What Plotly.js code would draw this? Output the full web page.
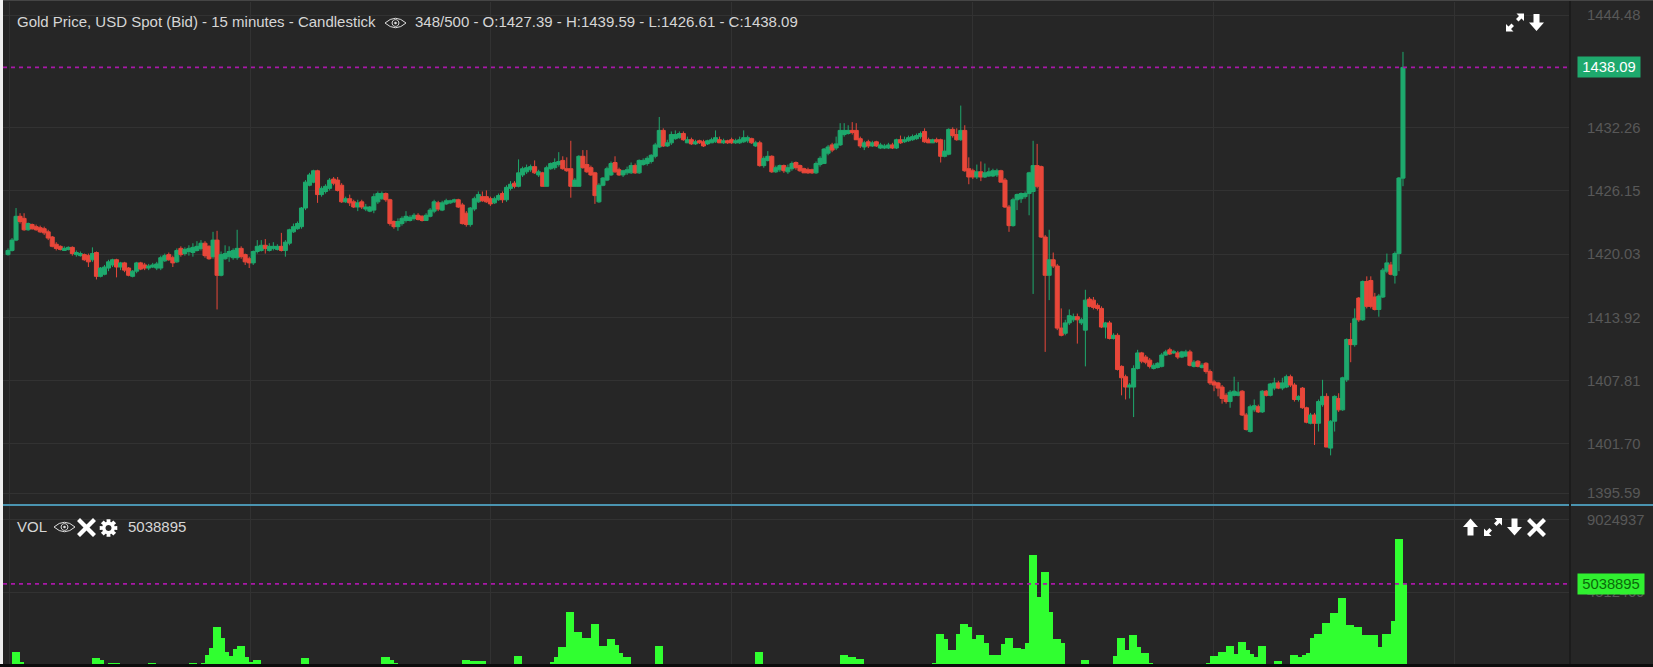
<!DOCTYPE html>
<html>
<head>
<meta charset="utf-8">
<script src="https://cdn.plot.ly/plotly-3.0.1.min.js"></script>
<style>html,body{margin:0;padding:0;background:#262626;overflow:hidden}</style>
</head>
<body>
<div id="chart" style="width:1653px;height:667px"></div>
<script>
const opens = [
1420.0,1420.4,1421.4,1423.7,1423.5,1422.4,1422.9,1422.7,1422.6,1422.5,
1422.2,1421.7,1421.0,1420.8,1420.4,1420.5,1420.7,1420.0,1419.9,1420.0,
1419.9,1419.5,1420.2,1417.9,1418.1,1418.7,1419.0,1419.5,1418.8,1419.2,
1418.7,1417.9,1418.4,1419.2,1419.0,1418.7,1418.8,1418.7,1418.7,1419.4,
1420.0,1419.7,1419.3,1420.6,1420.1,1420.3,1420.2,1420.4,1420.6,1421.1,
1420.8,1419.8,1421.4,1418.0,1419.6,1419.8,1419.7,1419.7,1420.6,1420.0,
1419.6,1419.2,1420.3,1420.4,1420.9,1420.4,1420.6,1420.5,1420.8,1420.4,
1421.1,1422.2,1422.5,1422.7,1424.5,1426.7,1427.0,1428.1,1425.8,1426.1,
1426.4,1427.3,1427.2,1426.7,1425.1,1425.4,1425.1,1424.6,1425.1,1424.4,
1424.2,1424.3,1425.1,1425.4,1425.9,1425.3,1423.2,1422.7,1423.0,1423.3,
1423.3,1423.5,1423.8,1423.7,1423.3,1423.7,1424.2,1425.0,1424.3,1424.9,
1425.0,1425.1,1425.3,1424.8,1424.0,1422.9,1424.4,1425.1,1425.6,1425.6,
1425.4,1425.0,1425.3,1425.9,1425.3,1426.4,1426.9,1426.6,1427.7,1428.0,
1428.2,1428.5,1427.7,1427.9,1426.6,1428.3,1428.4,1428.7,1429.1,1428.3,
1428.3,1426.6,1426.6,1429.5,1428.7,1428.4,1427.9,1425.1,1426.7,1427.2,
1427.7,1428.9,1428.2,1427.7,1427.9,1427.9,1428.6,1427.9,1428.7,1428.8,
1429.0,1429.5,1430.4,1432.0,1430.5,1430.8,1431.2,1431.3,1431.7,1430.8,
1431.1,1430.7,1431.0,1430.9,1430.7,1430.8,1430.9,1431.1,1430.8,1431.0,
1431.1,1430.8,1430.8,1430.9,1431.0,1431.2,1430.5,1430.8,1428.6,1429.1,
1429.5,1428.0,1428.2,1428.6,1428.0,1428.3,1428.9,1428.6,1428.3,1428.2,
1428.2,1427.9,1428.7,1428.8,1429.8,1430.6,1430.3,1430.6,1431.6,1431.7,
1432.0,1432.0,1431.2,1430.4,1430.9,1430.5,1430.9,1430.3,1430.3,1430.3,
1430.6,1430.3,1431.1,1430.9,1431.0,1431.1,1431.2,1431.4,1431.9,1431.1,
1430.8,1431.1,1431.1,1429.5,1429.7,1432.1,1431.6,1431.1,1432.0,1428.3,
1428.1,1427.5,1428.0,1427.5,1427.6,1427.6,1427.7,1428.1,1427.2,1424.6,
1422.8,1425.3,1425.4,1425.6,1425.9,1426.1,1428.6,1428.5,1421.7,1418.0,
1419.5,1418.9,1412.9,1412.4,1413.4,1413.7,1414.0,1413.4,1412.7,1415.7,
1415.6,1415.1,1414.8,1413.0,1413.4,1411.9,1412.2,1409.2,1408.2,1407.2,
1407.2,1409.0,1410.5,1410.1,1409.8,1409.0,1409.1,1409.2,1410.3,1410.8,
1410.5,1410.5,1410.1,1410.2,1410.6,1409.2,1409.7,1409.1,1409.5,1408.7,
1407.7,1407.6,1407.2,1406.4,1405.8,1406.4,1406.4,1406.8,1404.5,1402.9,
1405.0,1405.3,1404.8,1406.8,1406.4,1407.1,1407.6,1407.1,1407.2,1408.2,
1407.4,1406.0,1407.1,1405.2,1403.7,1404.5,1403.7,1405.5,1406.3,1401.3,
1403.9,1406.1,1405.0,1407.9,1411.8,1411.3,1415.8,1413.7,1417.4,1417.5,
1415.9,1414.7,1415.9,1418.4,1419.0,1418.0,1420.1,1427.39];
const highs = [
1420.6,1421.6,1424.5,1424.0,1424.0,1423.1,1423.0,1422.9,1422.8,1422.7,
1422.4,1421.8,1421.2,1420.9,1420.8,1420.8,1420.8,1420.4,1420.3,1420.1,
1420.1,1420.7,1420.3,1418.8,1419.0,1419.5,1419.6,1419.6,1419.3,1419.3,
1418.8,1418.5,1419.3,1419.3,1419.2,1419.1,1419.2,1419.3,1419.9,1420.1,
1420.2,1419.9,1420.6,1420.8,1420.7,1420.9,1421.1,1421.3,1421.4,1421.3,
1420.9,1422.2,1422.3,1420.3,1420.9,1420.8,1420.6,1422.4,1420.8,1420.1,
1419.8,1420.4,1421.4,1421.4,1421.5,1421.1,1421.2,1421.0,1422.1,1421.4,
1422.5,1423.0,1423.2,1424.6,1427.2,1427.9,1428.2,1428.2,1426.6,1426.8,
1427.4,1427.5,1427.5,1426.9,1425.6,1425.8,1425.3,1425.3,1425.3,1424.9,
1424.7,1425.9,1426.1,1426.1,1426.0,1425.4,1423.3,1423.5,1423.7,1424.2,
1423.8,1424.0,1424.0,1423.8,1424.0,1424.5,1425.3,1425.2,1425.2,1425.4,
1425.3,1425.4,1425.4,1425.0,1424.2,1424.6,1425.6,1426.1,1426.1,1426.2,
1425.6,1425.6,1425.9,1426.1,1426.7,1427.1,1427.1,1429.2,1428.5,1428.7,
1428.7,1429.1,1428.2,1428.0,1428.6,1428.9,1429.3,1429.9,1429.5,1429.4,
1431.0,1427.4,1429.6,1430.1,1430.1,1428.6,1428.0,1426.9,1427.5,1428.5,
1429.0,1429.5,1428.4,1428.2,1428.5,1428.9,1428.8,1429.2,1429.3,1429.5,
1429.7,1430.8,1433.3,1432.2,1431.1,1431.9,1432.0,1431.9,1431.9,1431.4,
1431.3,1431.1,1431.1,1431.1,1431.1,1431.3,1432.0,1431.4,1431.2,1431.1,
1431.3,1431.2,1431.4,1432.0,1431.5,1431.3,1431.0,1431.0,1429.5,1430.0,
1429.6,1428.6,1428.7,1428.7,1428.7,1429.0,1429.0,1428.7,1428.4,1428.4,
1428.3,1429.0,1429.5,1430.3,1430.6,1430.8,1431.4,1432.7,1432.7,1432.5,
1432.8,1432.7,1431.4,1431.0,1431.1,1431.0,1431.0,1430.8,1430.7,1430.8,
1430.8,1431.2,1431.5,1431.4,1431.5,1431.6,1431.7,1431.9,1432.2,1431.3,
1431.2,1431.3,1431.2,1431.1,1432.2,1432.3,1432.2,1434.4,1432.5,1429.4,
1428.3,1428.7,1429.0,1428.8,1428.4,1428.3,1428.3,1428.2,1427.4,1424.8,
1425.5,1425.9,1426.0,1426.1,1428.0,1431.0,1430.7,1428.6,1421.9,1422.4,
1420.2,1419.1,1414.8,1413.7,1414.7,1414.3,1414.3,1413.9,1416.6,1415.9,
1415.9,1415.3,1415.0,1413.5,1413.6,1412.4,1412.4,1409.3,1408.4,1407.6,
1409.3,1410.8,1410.6,1410.3,1410.0,1409.5,1409.6,1410.5,1410.8,1411.0,
1410.8,1410.7,1410.7,1410.8,1410.8,1409.8,1409.8,1409.5,1409.6,1408.9,
1407.9,1407.7,1407.4,1406.6,1406.9,1408.2,1407.7,1406.9,1404.7,1405.5,
1406.0,1405.5,1406.9,1406.9,1407.6,1408.1,1407.8,1408.1,1408.4,1408.4,
1407.6,1406.4,1407.2,1405.3,1404.7,1404.7,1406.0,1407.9,1406.6,1404.0,
1406.4,1406.6,1408.2,1411.9,1413.4,1414.8,1415.9,1417.5,1417.9,1417.9,
1416.3,1416.2,1418.7,1420.1,1419.3,1420.3,1427.5,1439.59];
const lows = [
1419.9,1420.3,1421.3,1423.0,1422.3,1422.3,1422.4,1422.3,1422.1,1421.9,
1421.4,1420.7,1420.4,1420.4,1420.4,1420.4,1419.9,1419.8,1419.8,1419.4,
1418.8,1419.3,1417.6,1417.8,1418.0,1418.4,1418.8,1417.8,1418.5,1418.3,
1417.9,1417.8,1418.2,1418.5,1418.5,1418.5,1418.7,1418.5,1418.5,1419.3,
1419.4,1418.8,1419.2,1419.8,1419.9,1419.9,1419.8,1420.3,1420.4,1419.7,
1419.5,1419.6,1414.7,1417.9,1419.5,1419.3,1419.5,1419.5,1419.6,1419.0,
1418.7,1419.0,1420.1,1420.3,1420.1,1420.3,1420.4,1420.4,1420.3,1419.8,
1420.9,1422.1,1422.4,1422.5,1424.3,1426.6,1426.9,1425.0,1425.6,1425.9,
1426.2,1426.7,1426.1,1425.0,1425.0,1424.7,1424.5,1424.2,1424.4,1424.2,
1424.1,1424.0,1424.9,1425.3,1425.1,1422.8,1422.5,1422.3,1422.8,1423.1,
1423.2,1423.3,1423.3,1423.2,1423.3,1423.6,1424.0,1424.2,1424.2,1424.8,
1424.9,1425.0,1424.5,1422.9,1422.7,1422.7,1424.2,1425.0,1425.1,1425.0,
1424.7,1424.9,1425.2,1425.0,1425.1,1426.2,1426.4,1426.5,1427.5,1427.8,
1428.0,1427.8,1427.5,1426.6,1426.6,1428.2,1428.2,1428.5,1428.2,1428.0,
1425.5,1426.6,1426.6,1428.3,1427.9,1427.6,1424.9,1425.0,1426.6,1427.1,
1427.6,1427.9,1427.6,1427.5,1427.7,1427.8,1427.8,1427.8,1428.6,1428.6,
1428.8,1429.3,1430.3,1430.4,1430.4,1430.6,1431.1,1431.2,1431.0,1430.8,
1430.6,1430.6,1430.7,1430.4,1430.6,1430.8,1430.8,1430.8,1430.7,1430.7,
1430.7,1430.7,1430.7,1430.8,1430.8,1430.7,1430.4,1428.5,1428.4,1429.0,
1427.9,1427.9,1428.0,1427.9,1427.8,1428.1,1428.2,1428.0,1427.9,1427.8,
1427.8,1427.8,1428.5,1428.8,1429.6,1429.9,1430.1,1430.5,1431.4,1431.6,
1431.6,1431.1,1430.3,1430.1,1430.3,1430.4,1430.4,1430.2,1430.2,1430.2,
1430.2,1430.2,1430.7,1430.8,1430.9,1431.0,1431.1,1431.2,1430.8,1430.8,
1430.8,1430.8,1428.9,1429.4,1429.6,1431.3,1431.0,1431.0,1428.0,1426.8,
1427.3,1427.3,1427.1,1427.4,1427.5,1427.5,1427.5,1427.0,1424.5,1422.2,
1422.7,1424.3,1425.0,1425.4,1423.8,1416.2,1426.4,1421.6,1410.6,1415.6,
1418.7,1412.7,1412.1,1412.2,1413.2,1413.5,1411.4,1413.2,1409.2,1414.9,
1414.7,1414.6,1412.9,1411.9,1411.8,1411.8,1408.8,1406.4,1406.0,1406.1,
1404.3,1408.9,1409.5,1409.4,1409.0,1408.9,1409.0,1409.1,1410.2,1410.3,
1410.4,1409.9,1410.0,1410.1,1409.2,1409.1,1409.1,1409.0,1408.5,1407.4,
1406.8,1406.3,1405.6,1405.6,1405.2,1406.3,1406.3,1404.4,1403.0,1402.8,
1404.8,1404.7,1404.7,1406.3,1406.3,1406.9,1407.0,1406.9,1407.1,1407.2,
1405.8,1405.8,1405.1,1403.7,1403.6,1401.6,1402.9,1405.3,1401.4,1400.6,
1402.9,1404.8,1404.9,1407.7,1409.6,1411.1,1413.5,1413.6,1414.8,1414.8,
1414.6,1414.0,1415.8,1418.2,1418.0,1417.2,1418.4,1426.61];
const closes = [
1420.4,1421.4,1423.7,1423.2,1422.4,1423.0,1422.5,1422.4,1422.2,1422.1,
1421.6,1420.8,1420.6,1420.5,1420.6,1420.7,1420.1,1420.2,1420.1,1419.5,
1419.3,1420.1,1417.9,1418.7,1418.8,1419.3,1419.5,1418.8,1419.2,1418.5,
1418.0,1418.4,1419.2,1418.6,1418.7,1418.9,1419.0,1419.1,1419.7,1419.9,
1419.5,1419.2,1420.4,1420.0,1420.5,1420.6,1420.7,1420.8,1421.1,1419.9,
1419.6,1421.4,1418.0,1420.0,1420.1,1420.3,1420.4,1420.6,1419.8,1419.3,
1419.2,1420.3,1420.8,1420.9,1420.6,1420.8,1420.8,1420.8,1420.4,1421.2,
1422.4,1422.7,1423.0,1424.5,1427.0,1427.7,1428.1,1425.8,1426.4,1426.6,
1427.2,1426.9,1426.2,1425.1,1425.4,1425.0,1424.6,1425.0,1424.6,1424.6,
1424.6,1425.6,1425.9,1425.9,1425.3,1423.0,1422.7,1423.2,1423.5,1423.7,
1423.6,1423.8,1423.4,1423.3,1423.8,1424.3,1425.1,1424.4,1425.0,1425.2,
1425.2,1425.3,1424.6,1423.0,1422.9,1424.5,1425.4,1425.8,1425.2,1425.1,
1424.9,1425.4,1425.7,1425.3,1426.5,1426.8,1426.6,1427.9,1428.3,1428.4,
1428.5,1427.9,1428.0,1426.6,1428.4,1428.8,1428.9,1429.0,1428.3,1428.1,
1426.6,1427.2,1429.5,1428.4,1428.0,1427.7,1425.7,1426.7,1427.4,1428.3,
1428.8,1428.0,1427.7,1428.1,1428.2,1428.6,1427.9,1429.1,1429.1,1429.3,
1429.6,1430.6,1432.0,1430.5,1430.8,1431.6,1431.6,1431.7,1431.1,1431.1,
1430.7,1430.9,1430.8,1430.5,1431.0,1431.1,1431.3,1430.8,1431.0,1430.8,
1430.8,1431.0,1431.1,1431.3,1431.3,1430.8,1430.8,1428.6,1429.3,1429.5,
1428.0,1428.4,1428.6,1428.1,1428.4,1428.8,1428.4,1428.1,1427.9,1427.9,
1427.9,1428.8,1429.3,1430.2,1430.4,1430.1,1430.7,1432.0,1432.0,1432.0,
1431.8,1431.1,1430.5,1430.8,1430.5,1430.8,1430.5,1430.6,1430.5,1430.6,
1430.3,1431.1,1430.8,1431.1,1431.3,1431.4,1431.5,1431.7,1430.9,1430.8,
1431.1,1430.9,1429.5,1430.0,1432.1,1431.5,1431.1,1432.0,1428.1,1427.5,
1427.5,1428.0,1427.5,1427.9,1428.0,1428.1,1428.1,1427.0,1424.6,1422.8,
1425.3,1425.8,1425.9,1425.9,1427.9,1428.6,1426.6,1421.7,1418.0,1419.5,
1418.9,1412.9,1412.2,1413.4,1414.1,1414.0,1413.7,1413.7,1415.6,1415.0,
1414.9,1414.8,1413.0,1413.4,1411.9,1412.2,1408.9,1408.1,1407.2,1407.4,
1409.0,1410.5,1409.7,1409.6,1409.2,1409.3,1409.5,1410.3,1410.6,1410.4,
1410.6,1410.1,1410.6,1410.6,1409.3,1409.6,1409.2,1409.3,1408.7,1407.6,
1407.4,1407.1,1406.1,1405.8,1406.7,1406.8,1406.7,1404.5,1403.1,1405.3,
1405.4,1404.8,1406.8,1406.4,1407.5,1407.6,1407.1,1407.6,1408.2,1407.4,
1406.0,1406.3,1405.2,1403.8,1404.5,1403.7,1405.8,1406.3,1401.4,1403.9,
1406.3,1405.0,1408.1,1411.8,1411.3,1413.8,1413.7,1417.4,1415.0,1415.0,
1414.7,1416.0,1418.5,1419.2,1418.1,1420.1,1427.4,1438.09];
const volumesThousands = [
30,828,828,207,30,30,30,30,30,30,
30,30,30,30,30,30,30,30,30,30,
30,414,414,310,30,145,145,145,30,30,
30,30,30,30,30,145,145,30,30,30,
30,30,30,30,30,145,145,30,145,621,
1076,2338,2338,1655,828,559,972,1179,1179,517,
207,310,310,30,30,30,62,62,30,30,
30,30,30,414,414,30,30,30,30,30,
30,30,30,30,30,30,30,30,30,30,
30,30,30,476,476,310,145,30,30,30,
30,30,30,30,30,30,30,30,30,30,
30,30,30,310,310,248,248,248,248,30,
30,30,30,30,30,30,559,559,30,30,
30,30,30,30,30,207,476,1097,1097,3310,
3310,2028,2028,1655,1655,2545,2545,1179,1179,1593,
1593,1241,724,476,476,30,30,30,30,30,
30,1179,1179,30,30,30,30,30,30,30,
30,30,30,30,30,30,30,30,30,30,
30,30,30,30,30,30,828,828,30,30,
30,30,30,30,30,30,30,30,30,30,
30,30,30,30,30,30,30,641,641,476,
476,393,393,30,30,30,30,30,30,30,
30,30,30,30,30,30,30,30,30,30,
145,1924,1924,1593,910,910,1924,2545,2545,2379,
1593,1841,1841,1345,641,641,641,1303,1676,1676,
1076,1076,993,1345,6807,6807,4241,5752,5752,3310,
1593,1593,1345,30,30,30,30,310,310,30,
30,30,30,30,30,559,1696,1696,931,1841,
1841,1097,724,724,145,30,30,30,30,30,
30,30,30,30,30,30,30,30,103,559,
559,786,786,1179,1179,683,1428,1428,931,662,
476,1179,1179,30,30,228,228,30,30,641,
641,517,621,724,1655,1924,1924,2628,2628,3207,
3207,4158,4158,2483,2483,2379,2379,1862,1862,1862,
1862,1097,1924,1924,2731,7820,7820,5038.895];
const priceTickVals = [1443.15,1432.26,1426.15,1420.03,1413.92,1407.81,1401.70,1396.96];
const priceTickText = ['1444.48','1432.26','1426.15','1420.03','1413.92','1407.81','1401.70','1395.59'];
const volTickVals = [0,4512469,9024937];
const volTickText = ['0','4512469','9024937'];
const xGridVals = [0.3,60.2,120.1,180,239.9,299.8,359.7];
const lastPrice = 1438.09, lastVolume = 5038895;
const titleText = 'Gold Price, USD Spot (Bid) - 15 minutes - Candlestick';
const ohlcText = '348/500 - O:1427.39 - H:1439.59 - L:1426.61 - C:1438.09';

const W=1653,H=667,L=3,R=84,T=2,B=2,PW=W-L-R,PH=H-T-B;
const px=x=>(x-L)/PW, py=y=>(H-B-y)/PH;
const indices=closes.map((_,i)=>i);
const FONT='"Liberation Sans", Arial, sans-serif';
const sans=(size,color)=>({family:FONT,size:size,color:color});

const traces=[
 {type:'candlestick',x:indices,open:opens,high:highs,low:lows,close:closes,yaxis:'y',xaxis:'x',
  increasing:{line:{color:'#1ea96d',width:1},fillcolor:'#1ea96d'},
  decreasing:{line:{color:'#e8473a',width:1},fillcolor:'#e8473a'},
  whiskerwidth:0,hoverinfo:'skip',showlegend:false},
 {type:'bar',x:indices,y:volumesThousands.map(v=>v*1000),yaxis:'y2',xaxis:'x',width:1,offset:-0.1,
  marker:{color:'#30ff30',line:{width:0}},hoverinfo:'skip',showlegend:false}
];

function glyph(cx,cy,d,o){
  return Object.assign({type:'path',xref:'paper',yref:'paper',xsizemode:'pixel',ysizemode:'pixel',
    xanchor:px(cx),yanchor:py(cy),path:d,fillcolor:'#ffffff',line:{width:0},layer:'above'},o||{});
}
const poly=pts=>'M'+pts.map(p=>p[0]+','+(-p[1])).join(' L')+' Z';
const circle=(r,n=20)=>{const a=[];for(let k=0;k<n;k++){const t=k/n*2*Math.PI;a.push([+(r*Math.cos(t)).toFixed(2),+(r*Math.sin(t)).toFixed(2)]);}return poly(a);};
const downArrow=poly([[-3,-8.5],[3,-8.5],[3,0],[7.5,0],[0,8.5],[-7.5,0],[-3,0]]);
const upArrow=poly([[-3,8.5],[3,8.5],[3,0],[7.5,0],[0,-8.5],[-7.5,0],[-3,0]]);
const head=[[9,-9],[1.5,-9],[4,-6.5],[1,-3.5],[3.5,-1],[6.5,-4],[9,-1.5]];
const expand=poly(head)+' '+poly(head.map(p=>[-p[0],-p[1]]));
const cross=poly([[-9.5,-6.5],[-6.5,-9.5],[0,-3],[6.5,-9.5],[9.5,-6.5],[3,0],[9.5,6.5],[6.5,9.5],[0,3],[-6.5,9.5],[-9.5,6.5],[-3,0]]);
const gear=(()=>{const a=[];for(let k=0;k<8;k++){const t=k/8*2*Math.PI,s=0.22;
  [[6.4,-s*1.35],[9,-s],[9,s],[6.4,s*1.35]].forEach(q=>a.push([+(q[0]*Math.cos(t+q[1])).toFixed(2),+(q[0]*Math.sin(t+q[1])).toFixed(2)]));}
  return poly(a)+' '+circle(3);})();
const eyeLine={color:'#dddddd',width:1};
const eye=(cx,cy)=>[
  glyph(cx,cy,'M-10.5,0 Q0,-9.5 10.5,0 Q0,9.5 -10.5,0 Z',{fillcolor:'rgba(0,0,0,0)',line:eyeLine}),
  glyph(cx,cy,circle(3.4),{fillcolor:'rgba(0,0,0,0)',line:eyeLine}),
  glyph(cx,cy,circle(1.3),{fillcolor:'#dddddd'})];
const paperRect=(x0,x1,y0,y1,c)=>({type:'rect',xref:'paper',yref:'paper',x0:px(x0),x1:px(x1),y0:py(y1),y1:py(y0),
  fillcolor:c,line:{width:0},layer:'above'});

const shapes=[
 {type:'line',xref:'paper',yref:'y',x0:0,x1:px(1567),y0:lastPrice,y1:lastPrice,layer:'above',line:{color:'#a818a8',width:1.8,dash:'4px,4px'}},
 {type:'line',xref:'paper',yref:'y2',x0:0,x1:px(1567),y0:lastVolume,y1:lastVolume,layer:'above',line:{color:'#a818a8',width:1.8,dash:'4px,4px'}},
 paperRect(3,1653,504,506,'#4a94b0'),
 paperRect(1569,1571,0,664,'#1c1c1c'),
 paperRect(0,1653,664,667,'#0c0c0c'),
 paperRect(0,3,0,664,'#f1f1f1'),
 paperRect(3,1653,0,1,'#454545'),
 glyph(1515,22.5,expand),glyph(1536.5,22.5,downArrow),
 glyph(1470.5,527,upArrow),glyph(1493,527,expand),glyph(1514.5,527,downArrow),glyph(1536.5,527.5,cross),
 glyph(86.5,527.5,cross),glyph(108.5,528,gear),
 ...eye(395.5,23),...eye(64.5,527)
];

const ann=(x,y,text,size,color,extra)=>Object.assign({xref:'paper',yref:'paper',x:px(x),y:py(y),text:text,showarrow:false,
  xanchor:'left',yanchor:'middle',font:sans(size,color),borderpad:0},extra||{});
const annotations=[
 ann(16,21.5,titleText,15,'#d6d6d6'),
 ann(414,21.5,ohlcText,15,'#d6d6d6'),
 ann(16,526,'VOL',15,'#d6d6d6'),
 ann(127,526,'5038895',15,'#d6d6d6'),
 ann(1609,67.5,'1438.09',14.8,'#ffffff',{xanchor:'center',bgcolor:'#1ea96d',width:62,height:20,align:'center'}),
 ann(1611,584,'5038895',14.8,'#0a6a0a',{xanchor:'center',bgcolor:'#30f030',width:66,height:20,align:'center'})
];

const axisBase={showline:false,zeroline:false,tickfont:sans(14.8,'#585858'),side:'right',ticks:'outside',ticklen:14,tickcolor:'rgba(0,0,0,0)',
  gridcolor:'#323232',gridwidth:1,tickmode:'array',fixedrange:true};
const layout={
 width:W,height:H,margin:{l:L,r:R,t:T,b:B,pad:0},
 paper_bgcolor:'#262626',plot_bgcolor:'#262626',showlegend:false,boxgap:0,boxgroupgap:0,bargap:0,
 xaxis:{type:'linear',range:[-1.244,388.3],showline:false,zeroline:false,showticklabels:false,ticks:'',tickmode:'array',tickvals:xGridVals,
   gridcolor:'#323232',gridwidth:1,rangeslider:{visible:false},fixedrange:true,anchor:'y2'},
 yaxis:Object.assign({},axisBase,{domain:[py(504),1],range:[1395.90,1444.41],tickvals:priceTickVals,ticktext:priceTickText}),
 yaxis2:Object.assign({},axisBase,{domain:[0,py(506)],range:[0,9868494],tickvals:volTickVals,ticktext:volTickText}),
 shapes:shapes,annotations:annotations
};
Plotly.newPlot('chart',traces,layout,{displayModeBar:false,staticPlot:true});
</script>
</body>
</html>
